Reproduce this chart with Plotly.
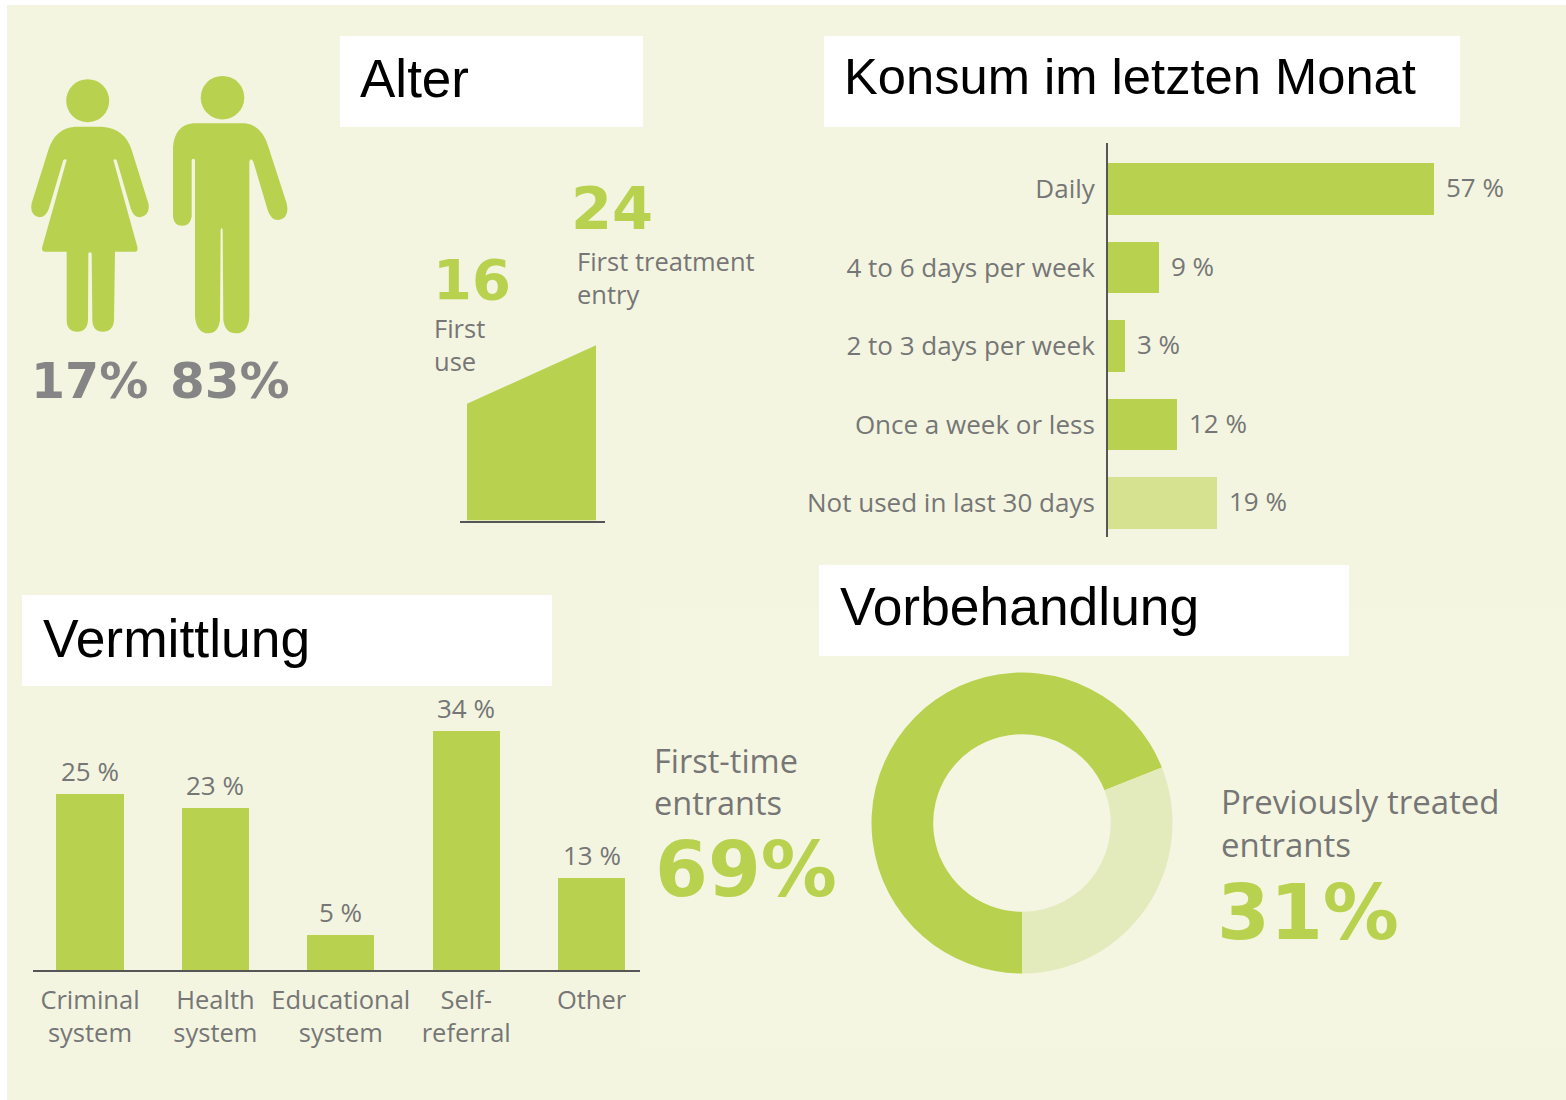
import re
import plotly.graph_objects as go

W, H = 1566, 1100

# ---------- data ----------
use_categories = ["Daily", "4 to 6 days per week", "2 to 3 days per week", "Once a week or less", "Not used in last 30 days"]
use_values = [57, 9, 3, 12, 19]

referral_categories = ["Criminal<br>system", "Health<br>system", "Educational<br>system", "Self-<br>referral", "Other"]
referral_values = [25, 23, 5, 34, 13]

treatment_labels = ["First-time entrants", "Previously treated entrants"]
treatment_values = [69, 31]

age_values = [16, 24]
age_height = [16, 24]

gender_values = [17, 83]

titles = ["Alter", "Konsum im letzten Monat", "Vermittlung", "Vorbehandlung"]

# ---------- style ----------
GREEN = "#b8d14f"
LIGHT = "#d6e28f"
DONUT_LIGHT = "#e3ebbd"
BG = "#f3f5e1"
BG2 = "#f5f6e1"
TXT = "#767676"
AXIS = "#565656"
FONT = "Open Sans"
BOLD = "DejaVu Sans"
TITLE = "Liberation Sans"


def fx(x):
    return x / W


def fy(y):
    return 1 - y / H


def rect(x0, y0, x1, y1, color):
    return dict(type="rect", xref="paper", yref="paper", x0=fx(x0), x1=fx(x1), y0=fy(y1), y1=fy(y0),
                fillcolor=color, line_width=0, layer="below")


def circle(cx, cy, r, color):
    return dict(type="circle", xref="paper", yref="paper", x0=fx(cx - r), x1=fx(cx + r), y0=fy(cy + r), y1=fy(cy - r),
                fillcolor=color, line_width=0, layer="below")


def icon(path, dx, dy, scale, color):
    def conv(m):
        x = float(m.group(1)) * scale + dx
        y = float(m.group(2)) * scale + dy
        return f"{fx(x):.5f},{fy(y):.5f}"
    return dict(type="path", xref="paper", yref="paper", path=re.sub(r"(-?[\d.]+),(-?[\d.]+)", conv, path),
                fillcolor=color, line_width=0, layer="below")


def note(x, y, text, size, color=TXT, font=FONT, bold=False, anchor="left"):
    return dict(xref="paper", yref="paper", x=fx(x), y=fy(y), text=text, showarrow=False, xanchor=anchor,
                yanchor="middle", align=anchor, font=dict(size=size, color=color, family=font,
                                                         weight="bold" if bold else "normal"))


WOMAN = ("M225,200 L305,200 Q375,205 395,270 L445,430 Q452,465 420,472 Q400,472 392,445 L350,300 Q345,295 340,300 "
         "L412,560 Q415,575 405,575 L345,575 L342,780 Q340,815 308,815 Q278,815 277,780 L275,580 Q270,574 265,580 "
         "L264,780 Q262,815 232,815 Q200,815 200,780 L200,575 L135,575 Q123,575 127,560 L200,300 Q197,295 190,300 "
         "L147,445 Q138,472 118,472 Q88,465 95,430 L145,270 Q165,205 225,200 Z")
MAN = ("M580,190 L735,190 Q785,195 805,260 L860,430 Q870,475 835,480 Q812,480 803,450 L760,305 Q752,290 748,305 "
       "L748,770 Q745,820 708,820 Q675,820 670,780 L668,510 Q665,498 662,510 L660,780 Q655,820 625,820 "
       "Q590,820 585,770 L585,300 Q580,292 575,300 L575,470 Q570,497 547,497 Q522,497 519,470 L519,260 "
       "Q525,195 580,190 Z")

shapes = [
    rect(7, 5, W, H, BG),
    rect(640, 608, W, 1047, BG2),
    rect(340, 36, 643, 127, "white"),
    rect(824, 36, 1460, 127, "white"),
    rect(22, 595, 552, 686, "white"),
    rect(819, 565, 1349, 656, "white"),
    circle(87.7, 100.7, 21.5, GREEN),
    circle(222.5, 97.7, 21.8, GREEN),
    icon(WOMAN, 0, 60, 1 / 3, GREEN),
    icon(MAN, 0, 60, 1 / 3, GREEN),
]

annotations = [
    note(358, 78.5, titles[0], 53, "black", TITLE),
    note(842, 76.5, titles[1], 50.7, "black", TITLE),
    note(41, 638.5, titles[2], 53.4, "black", TITLE),
    note(838, 607, titles[3], 53.4, "black", TITLE),
    note(29, 381, f"{gender_values[0]}%", 49, "#858585", BOLD, True),
    note(168, 381, f"{gender_values[1]}%", 50, "#858585", BOLD, True),
    note(431, 279, str(age_values[0]), 56, GREEN, BOLD, True),
    note(569, 209, str(age_values[1]), 59, GREEN, BOLD, True),
    note(432, 344, "First<br>use", 25.5),
    note(575, 278, "First treatment<br>entry", 25.5),
    note(652, 781.5, "First-time<br>entrants", 32.5),
    note(653, 869, f"{treatment_values[0]}%", 76, GREEN, BOLD, True),
    note(1219, 823, "Previously treated<br>entrants", 33),
    note(1215, 912, f"{treatment_values[1]}%", 76, GREEN, BOLD, True),
]

# value labels, placed through the axes of each chart
for cat, v in zip(use_categories, use_values):
    annotations.append(dict(xref="x", yref="y", x=v, y=cat, text=f"{v} %", showarrow=False, xanchor="left",
                            xshift=10, yshift=2, font=dict(size=26, color=TXT, family=FONT)))
for cat, v in zip(referral_categories, referral_values):
    annotations.append(dict(xref="x2", yref="y2", x=cat, y=v, text=f"{v} %", showarrow=False, yanchor="bottom",
                            yshift=3, font=dict(size=26, color=TXT, family=FONT)))

fig = go.Figure()

# monthly use
fig.add_trace(go.Bar(
    x=use_values, y=use_categories, orientation="h", xaxis="x", yaxis="y", width=0.66,
    marker=dict(color=[GREEN, GREEN, GREEN, GREEN, LIGHT], line_width=0),
))

# referral
fig.add_trace(go.Bar(
    x=referral_categories, y=referral_values, xaxis="x2", yaxis="y2", width=0.535,
    marker=dict(color=GREEN, line_width=0),
))

# age
fig.add_trace(go.Scatter(
    x=age_values, y=age_height, xaxis="x3", yaxis="y3", mode="lines", line=dict(width=0, color=GREEN),
    fill="tozeroy", fillcolor=GREEN,
))

# prior treatment
fig.add_trace(go.Pie(
    labels=treatment_labels, values=treatment_values, hole=0.59, sort=False, direction="clockwise", rotation=180,
    textinfo="none", marker=dict(colors=[GREEN, DONUT_LIGHT], line_width=0),
    domain=dict(x=[fx(871.5), fx(1172.5)], y=[fy(974), fy(672)]),
))

fig.update_layout(
    width=W, height=H, margin=dict(l=0, r=0, t=0, b=0), showlegend=False,
    paper_bgcolor="white", plot_bgcolor="rgba(0,0,0,0)", bargap=0,
    shapes=shapes, annotations=annotations, font=dict(family=FONT, color=TXT),
    xaxis=dict(domain=[fx(1108), fx(1540)], range=[0, 432 / 5.72], visible=False, anchor="y"),
    yaxis=dict(domain=[fy(537), fy(143)], range=[4.433, -0.586], type="category", anchor="x", showline=True,
               linecolor=AXIS, linewidth=2, showgrid=False, ticks="outside", ticklen=6,
               tickcolor="rgba(0,0,0,0)", tickfont=dict(size=26, color=TXT, family=FONT)),
    xaxis2=dict(domain=[fx(33), fx(640)], range=[-0.4545, 4.386], type="category", anchor="y2", showline=True,
                linecolor=AXIS, linewidth=2, showgrid=False, ticks="outside", ticklen=6,
                tickcolor="rgba(0,0,0,0)", tickfont=dict(size=25.5, color=TXT, family=FONT), tickangle=0),
    yaxis2=dict(domain=[fy(970), fy(690)], range=[0, 280 / 7.04], visible=False, anchor="x2"),
    xaxis3=dict(domain=[fx(460), fx(605)], range=[16 - 7 / 16.125, 24 + 9 / 16.125], anchor="y3", showline=True,
                linecolor=AXIS, linewidth=2, showgrid=False, showticklabels=False, ticks=""),
    yaxis3=dict(domain=[fy(520.5), fy(331)], range=[0, 189.5 / 7.3], visible=False, anchor="x3"),
)

fig.write_html("out.html", config={"displayModeBar": False},
               post_script="document.body.style.margin='0';document.body.style.overflow='hidden';")
